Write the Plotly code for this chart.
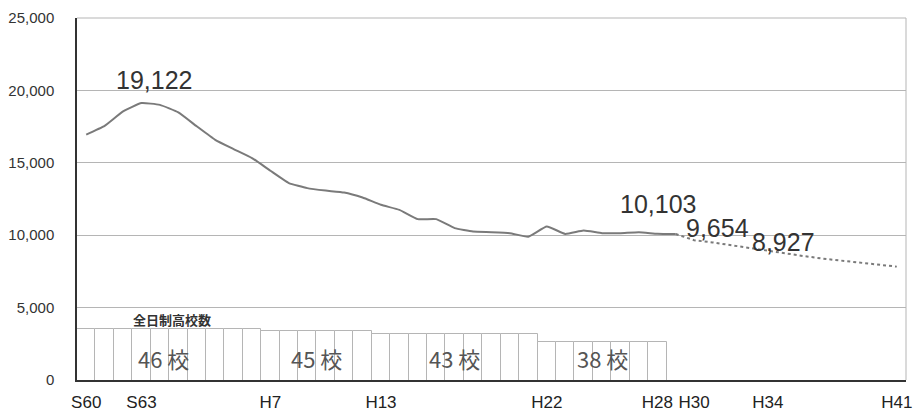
import plotly.graph_objects as go

years = list(range(1985, 2030))
# actual enrolment (S60..H29)
actual_years = list(range(1985, 2018))
actual_values = [16950, 17550, 18550, 19122, 19000, 18480, 17520, 16590, 15950, 15330,
                 14450, 13600, 13250, 13080, 12950, 12600, 12100, 11750, 11110, 11110,
                 10490, 10250, 10210, 10140, 9900, 10600, 10090, 10320, 10140, 10140,
                 10200, 10103, 10080]
# projection (H29..H41)
proj_years = list(range(2017, 2030))
proj_values = [10080, 9654, 9500, 9300, 9100, 8927, 8750, 8550, 8380, 8250, 8120, 7980, 7830]

# number of full-time high schools
school_years = list(range(1985, 2017))
school_counts = [46] * 10 + [45] * 6 + [43] * 9 + [38] * 7
school_groups = [(1985, 1994, 46), (1995, 2000, 45), (2001, 2009, 43), (2010, 2016, 38)]

tick_years = [1985, 1988, 1995, 2001, 2010, 2016, 2018, 2022, 2029]
tick_labels = ["S60", "S63", "H7", "H13", "H22", "H28", "H30", "H34", "H41"]

labels = [(1988, 19122, "19,122", 13, 23), (2016, 10103, "10,103", 1, 30),
          (2018, 9654, "9,654", 23, 12), (2022, 8927, "8,927", 16, 9)]

fig = go.Figure()
fig.add_trace(go.Bar(x=school_years, y=school_counts, yaxis="y2", width=1,
                     marker=dict(color="white", line=dict(color="#b5b5b5", width=1)),
                     showlegend=False, hoverinfo="skip"))
fig.add_trace(go.Scatter(x=actual_years, y=actual_values, mode="lines",
                         line=dict(color="#7a7a7a", width=2, shape="spline", smoothing=0.4),
                         showlegend=False))
fig.add_trace(go.Scatter(x=proj_years, y=proj_values, mode="lines",
                         line=dict(color="#7a7a7a", width=2, dash="dot"),
                         showlegend=False))

for x, y, t, dx, dy in labels:
    fig.add_annotation(x=x, y=y, text=t, showarrow=False, xshift=dx, yshift=dy,
                       font=dict(family="Liberation Sans, Arial", size=25, color="#333"))

for k, (a, b, n) in enumerate(school_groups):
    fig.add_annotation(x=(a + b) / 2, y=0.061, yref="paper", text=f"{n} 校", showarrow=False,
                       xanchor="center", yanchor="middle", xshift=-6 if k == 0 else 0,
                       font=dict(family="Noto Sans CJK JP", size=22, color="#555"))

fig.add_annotation(x=0.1146, y=0.168, xref="paper", yref="paper", text="<b>全日制高校数</b>",
                   showarrow=False, xanchor="center", yanchor="middle",
                   font=dict(family="Noto Sans CJK JP", size=13, color="#333"))

fig.add_shape(type="line", xref="paper", yref="paper", x0=1, x1=1, y0=0, y1=1,
              line=dict(color="#b5b5b5", width=1))
fig.add_shape(type="line", xref="paper", yref="paper", x0=0, x1=1, y0=1, y1=1,
              line=dict(color="#b5b5b5", width=1))

fig.update_layout(
    width=914, height=412,
    margin=dict(l=77, r=8, t=18, b=32),
    paper_bgcolor="white", plot_bgcolor="white",
    bargap=0,
    xaxis=dict(range=[1984.5, 2029.5], tickvals=tick_years, ticktext=tick_labels,
               showgrid=False, showline=True, linecolor="#333", linewidth=1.5,
               ticks="", ticklabelstandoff=6, automargin=False,
               tickfont=dict(family="Liberation Sans, Arial", size=17, color="#222")),
    yaxis=dict(range=[0, 25000], dtick=5000, tickformat=",", showgrid=True,
               gridcolor="#b5b5b5", gridwidth=1, zeroline=False,
               showline=True, linecolor="#333", linewidth=1.5, ticks="",
               ticklabelstandoff=18, automargin=False,
               tickfont=dict(family="Liberation Sans, Arial", size=15, color="#333")),
    yaxis2=dict(range=[14.6, 237.4], overlaying="y", visible=False),
)

fig.write_html("out.html", config={"displayModeBar": False},
               post_script="document.body.style.margin='0';document.body.style.overflow='hidden';")
